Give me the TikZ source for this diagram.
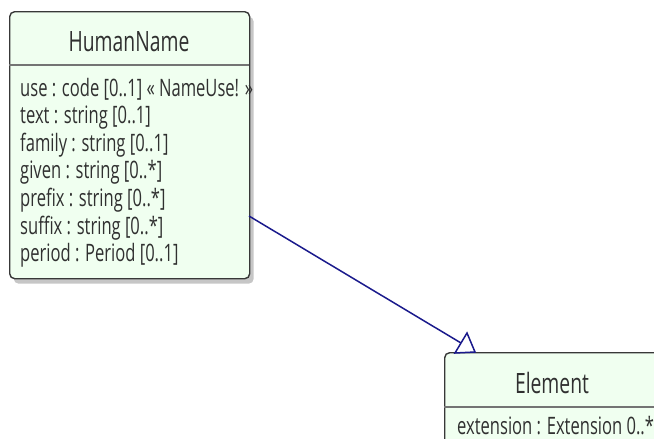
\documentclass[tikz,border=0pt]{standalone}
\usepackage{fontspec}
\setmainfont{Open Sans}[FakeStretch=0.69]
\usetikzlibrary{shadows}
\definecolor{boxfill}{HTML}{F0FFF0}
\definecolor{boxline}{HTML}{383838}
\definecolor{linkblue}{HTML}{1A1A8C}
\definecolor{txtgray}{HTML}{303030}
\begin{document}
\begin{tikzpicture}[x=1pt,y=-1pt,
	classbox/.style={draw=boxline, fill=boxfill, line width=1.4pt, rounded corners=5pt, inner sep=0pt},
	divider/.style={draw=boxline!70, line width=1.2pt},
	attr/.style={anchor=base west, inner sep=0pt, font=\fontsize{24}{24}\selectfont, text=txtgray},
	cname/.style={anchor=base, inner sep=0pt, font=\fontsize{28}{28}\selectfont, text=txtgray},
	link/.style={draw=linkblue, line width=1.5pt, line join=miter}]
			\clip (0,0) rectangle (654,439);
			% HumanName
			\node[classbox, minimum width=240pt, minimum height=267pt, anchor=north west,
				drop shadow={shadow xshift=4pt, shadow yshift=-5pt, opacity=0.45}] (humanname) at (9,11) {};
			\draw[divider] (9,65) -- (249,65);
			\node[cname] (humanname-title) at (129,51) {HumanName};
			\foreach \t [count=\i from 0] in {use : code [0..1] « NameUse! »,
				text : string [0..1], family : string [0..1], given : string [0..*],
				prefix : string [0..*], suffix : string [0..*], period : Period [0..1]}
				\node[attr] (hn-attr\i) at (20,96+27.6*\i) {\t};
			% Element
			\node[classbox, minimum width=216pt, minimum height=120pt, anchor=north west] (element) at (444,352) {};
			\draw[divider] (444,407) -- (660,407);
			\node[cname] (element-title) at (552,393) {Element};
			\node[attr] (el-attr0) at (457,434) {extension : Extension 0..*};
			% generalization
			\coordinate (hn-out) at (249,216);
			\coordinate (tri-a) at (455,353);
			\coordinate (tri-b) at (475,352);
			\coordinate (tri-c) at (467,333);
			\coordinate (tri-mid) at (461,343);
			\draw[link] (hn-out) -- (tri-mid);
			\draw[link, fill=white] (tri-a) -- (tri-b) -- (tri-c) -- cycle;
	\end{tikzpicture}
\end{document}
